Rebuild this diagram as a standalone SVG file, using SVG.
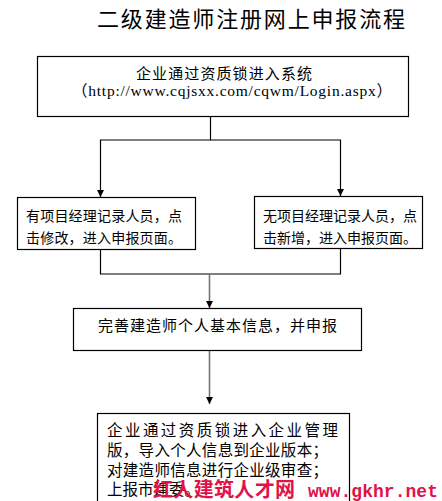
<svg xmlns="http://www.w3.org/2000/svg" width="442" height="501" viewBox="0 0 442 501">
<defs>
<style>
.box{fill:#fff;stroke:#000;stroke-width:1.2}
.t{font-family:"Noto Sans CJK SC","Liberation Sans",sans-serif;fill:#000}
.s{font-family:"Liberation Serif","Noto Sans CJK SC",serif;fill:#000}
.ln{fill:none;stroke:#000;stroke-width:1.2}
.lg{fill:none;stroke:#777;stroke-width:1.6}
.wm{font-weight:bold;fill:#e0124a}
</style>
<marker id="ah" markerWidth="8" markerHeight="8" refX="4" refY="7" orient="auto-start-reverse" markerUnits="userSpaceOnUse" viewBox="0 0 8 8">
<path d="M0.5,0 L7.5,0 L4,7 Z" fill="#000" transform="rotate(-90 4 4)"/>
</marker>
<marker id="a" markerWidth="8" markerHeight="8" refX="7" refY="4" orient="auto" markerUnits="userSpaceOnUse" viewBox="0 0 8 8">
<path d="M0,0.5 L7,4 L0,7.5 Z" fill="#000"/>
</marker>
</defs>
<text class="t" x="97" y="27" font-size="22" textLength="308" lengthAdjust="spacing">二级建造师注册网上申报流程</text>
<g id="connectors">
<polyline class="ln" points="210.5,116 210.5,140 100.5,140 100.5,197" marker-end="url(#a)"/>
<polyline class="ln" points="210.5,140 340.5,140 340.5,196" marker-end="url(#a)"/>
<polyline class="ln" points="100.5,249 100.5,274 340.5,274 340.5,248"/>
<line class="lg" x1="209.5" y1="274" x2="209.5" y2="308" marker-end="url(#a)"/>
<line class="lg" x1="209.5" y1="350" x2="209.5" y2="404" marker-end="url(#a)"/>
</g>
<g id="node1">
<rect class="box" x="37.5" y="56.5" width="371" height="60"/>
<text class="t" x="136" y="79" font-size="15" textLength="176" lengthAdjust="spacing">企业通过资质锁进入系统</text>
<text class="s" x="72" y="96" font-size="15.5" textLength="320" lengthAdjust="spacing">（http://www.cqjsxx.com/cqwm/Login.aspx）</text>
</g>
<g id="node2">
<rect class="box" x="17.5" y="197.5" width="178" height="52"/>
<text class="t" x="26" y="221" font-size="14" textLength="156" lengthAdjust="spacing">有项目经理记录人员，点</text>
<text class="t" x="26" y="243" font-size="14" textLength="156" lengthAdjust="spacing">击修改，进入申报页面。</text>
</g>
<g id="node3">
<rect class="box" x="254.5" y="196.5" width="168" height="52"/>
<text class="t" x="263" y="221" font-size="14" textLength="154" lengthAdjust="spacing">无项目经理记录人员，点</text>
<text class="t" x="263" y="243" font-size="14" textLength="154" lengthAdjust="spacing">击新增，进入申报页面。</text>
</g>
<g id="node4">
<rect class="box" x="73.5" y="308.5" width="288" height="42"/>
<text class="t" x="98" y="331" font-size="15" textLength="239" lengthAdjust="spacing">完善建造师个人基本信息，并申报</text>
</g>
<g id="node5">
<rect class="box" x="97.5" y="413.5" width="252" height="100"/>
<text class="t" x="107" y="436" font-size="15.5" textLength="231" lengthAdjust="spacing">企业通过资质锁进入企业管理</text>
<text class="t" x="107" y="456" font-size="15.5" textLength="221" lengthAdjust="spacing">版，导入个人信息到企业版本；</text>
<text class="t" x="107" y="476" font-size="15.5" textLength="221" lengthAdjust="spacing">对建造师信息进行企业级审查；</text>
<text class="t" x="107" y="495" font-size="15.5" textLength="93" lengthAdjust="spacing">上报市建委。</text>
</g>
<text class="t wm" x="153" y="497" font-size="20" textLength="142" lengthAdjust="spacing">红人建筑人才网</text>
<text class="wm" x="308" y="497" font-size="18" font-family="Liberation Mono,monospace" textLength="130" lengthAdjust="spacing">www.gkhr.net</text>
</svg>
